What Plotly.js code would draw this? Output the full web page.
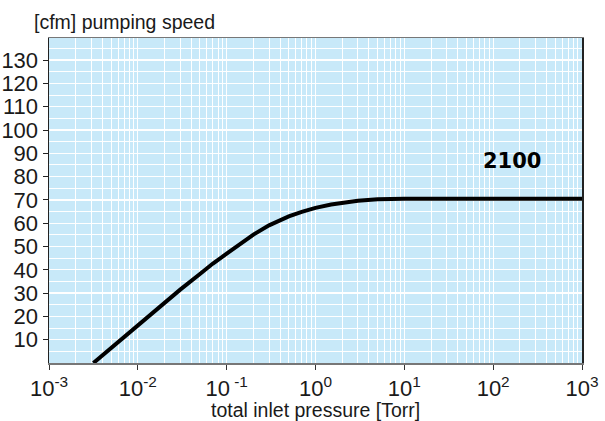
<!DOCTYPE html>
<html>
<head>
<meta charset="utf-8">
<script src="https://cdn.plot.ly/plotly-3.0.1.min.js"></script>
<style>html,body{margin:0;padding:0;background:#fff;}#chart{width:605px;height:421px;}</style>
</head>
<body>
<div id="chart"></div>
<script>
// Data
const pressureTorr = [0.00316, 0.005, 0.01, 0.02, 0.03, 0.05, 0.07, 0.1, 0.15, 0.2, 0.3, 0.4, 0.5, 0.7, 1, 1.5, 2, 3, 5, 7, 10, 100, 1000];
const speedCfm     = [0,       6.5,   16.4, 26.0, 31.5, 38.2, 42.7, 46.9, 52.0, 55.1, 59.1, 61.3, 62.9, 64.9, 66.6, 68.0, 68.7, 69.6, 70.3, 70.45, 70.5, 70.5, 70.5];
const seriesLabel = '2100';
const xTickVals = [0.001, 0.01, 0.1, 1, 10, 100, 1000];
const xTickText = ['10<sup>-3</sup>', '10<sup>-2</sup>', '10<sup> -1</sup>', '10<sup>0</sup>', '10<sup>1</sup>', '10<sup>2</sup>', '10<sup>3</sup>'];
const yTickVals = [10, 20, 30, 40, 50, 60, 70, 80, 90, 100, 110, 120, 130];
const yTitle = '[cfm] pumping speed';
const xTitle = 'total inlet pressure [Torr]';

const minorX = [];
for (let e = -3; e < 3; e++) for (let m = 2; m <= 9; m++) minorX.push(m * Math.pow(10, e));

const tickFont = {family: '"Liberation Sans Narrow", "Arial Narrow", "Liberation Sans", sans-serif', size: 22, color: '#1a1a1a'};
const textFont = {family: '"Liberation Sans", Arial, sans-serif', size: 19.5, color: '#1a1a1a'};

const trace = {
  x: pressureTorr, y: speedCfm, type: 'scatter', mode: 'lines',
  line: {color: '#000', width: 4, shape: 'linear'},
  hoverinfo: 'skip', showlegend: false
};

const layout = {
  width: 605, height: 421,
  margin: {l: 49, r: 23, t: 38, b: 58},
  paper_bgcolor: '#ffffff', plot_bgcolor: '#c8e9f9',
  showlegend: false,
  xaxis: {
    type: 'log', range: [-3, 3], tickmode: 'array', tickvals: xTickVals, ticktext: xTickText,
    ticks: 'outside', ticklen: 5, tickcolor: '#333', tickwidth: 1,
    showgrid: true, gridcolor: '#ffffff', gridwidth: 1.3,
    minor: {tickmode: 'array', tickvals: minorX, showgrid: true, gridcolor: '#ffffff', gridwidth: 1, ticklen: 0},
    showline: true, linecolor: '#777', linewidth: 1.5, mirror: true,
    zeroline: false, tickfont: tickFont, automargin: false
  },
  yaxis: {
    range: [0, 139.5], tickmode: 'array', tickvals: yTickVals,
    ticks: 'outside', ticklen: 5, tickcolor: '#222', tickwidth: 1,
    showgrid: true, gridcolor: '#ffffff', gridwidth: 1.3,
    minor: {dtick: 5, tick0: 0, showgrid: true, gridcolor: '#ffffff', gridwidth: 1, ticklen: 0},
    showline: true, linecolor: '#222', linewidth: 1.5, mirror: true,
    zeroline: false, tickfont: tickFont, automargin: false
  },
  annotations: [
    {text: yTitle, xref: 'paper', yref: 'paper', x: -0.032, y: 1.0, yshift: 16, xanchor: 'left', yanchor: 'middle', showarrow: false, font: textFont},
    {text: xTitle, xref: 'paper', yref: 'paper', x: 0.5, y: 0, yshift: -47, xanchor: 'center', yanchor: 'middle', showarrow: false, font: textFont},
    {text: '<b>' + seriesLabel + '</b>', xref: 'paper', yref: 'paper', x: 0.868, y: 0.622, xanchor: 'center', yanchor: 'middle', showarrow: false,
     font: {family: '"DejaVu Sans", sans-serif', size: 21, color: '#000'}}
  ]
};

Plotly.newPlot('chart', [trace], layout, {staticPlot: true, displayModeBar: false});
</script>
</body>
</html>
